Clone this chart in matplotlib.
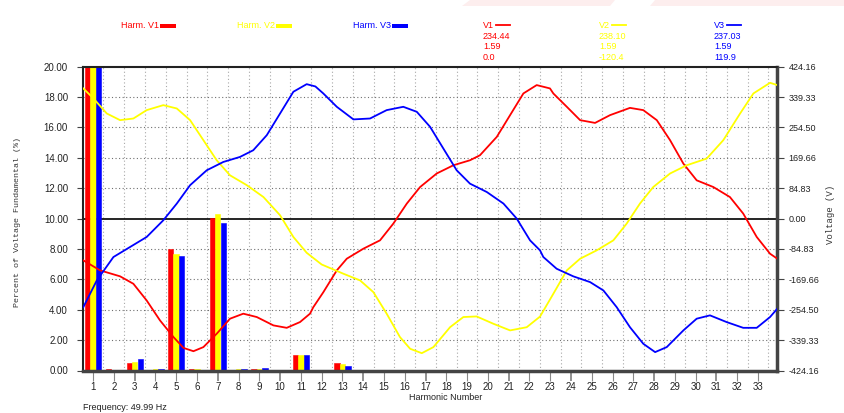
import matplotlib
matplotlib.use("Agg")
import matplotlib.pyplot as plt
from matplotlib.patches import Rectangle, Polygon
from matplotlib.lines import Line2D

# ---------------- data ----------------
harm_orders = [1, 2, 3, 4, 5, 6, 7, 8, 9, 10, 11, 12, 13]
harm_v1 = [100, 0.10, 0.48, 0.00, 8.02, 0.10, 10.05, 0.00, 0.08, 0.0, 1.05, 0.0, 0.48]
harm_v2 = [100, 0.00, 0.55, 0.07, 7.69, 0.12, 10.28, 0.10, 0.10, 0.0, 1.05, 0.0, 0.40]
harm_v3 = [100, 0.00, 0.77, 0.07, 7.53, 0.00, 9.73, 0.07, 0.15, 0.0, 1.00, 0.0, 0.31]

x_ticks = list(range(1, 34))
dark_x_ticks = [3, 7, 10, 14, 17, 21, 24, 28, 31]
pct_ticks = [0, 2, 4, 6, 8, 10, 12, 14, 16, 18, 20]
pct_labels = ["0.00", "2.00", "4.00", "6.00", "8.00", "10.00", "12.00",
              "14.00", "16.00", "18.00", "20.00"]
volt_ticks = [-424.16, -339.33, -254.50, -169.66, -84.83, 0.0,
              84.83, 169.66, 254.50, 339.33, 424.16]
volt_labels = ["-424.16", "-339.33", "-254.50", "-169.66", "-84.83", "0.00",
               "84.83", "169.66", "254.50", "339.33", "424.16"]

# waveforms (position along harmonic axis, volts)
wave_x_v1 = [0.53, 1.34, 2.30, 2.94, 3.58, 4.22, 4.87, 5.35, 5.83, 6.31, 6.95, 7.59,
             8.23, 8.88, 9.68, 10.32, 10.96, 11.44, 11.60, 12.08, 12.73, 13.21, 14.01,
             14.81, 15.45, 16.10, 16.74, 17.54, 18.34, 19.14, 19.62, 20.43, 21.07,
             21.71, 22.35, 22.99, 23.15, 23.80, 24.44, 25.16, 25.88, 26.84, 27.48,
             28.13, 28.77, 29.41, 30.05, 30.85, 31.65, 32.29, 32.94, 33.58, 33.93]
wave_v1 = [-116.6, -144.6, -161.2, -182.0, -228.6, -284.2, -330.8, -361.0, -370.3,
           -358.8, -321.5, -279.5, -265.5, -274.9, -298.2, -305.0, -288.9, -265.5,
           -247.3, -205.7, -144.6, -112.0, -84.0, -60.7, -14.0, 42.0, 88.2, 126.0,
           148.9, 162.9, 176.9, 228.2, 288.9, 349.5, 372.8, 363.5, 349.5, 312.2,
           274.9, 267.2, 288.9, 309.2, 302.9, 274.9, 218.9, 153.5, 106.9, 88.2,
           60.2, 14.0, -51.3, -98.0, -112.0]

wave_x_v2 = [0.53, 1.02, 1.66, 2.30, 2.94, 3.58, 4.38, 5.03, 5.67, 6.31, 6.95, 7.59,
             8.40, 9.20, 10.00, 10.64, 11.28, 12.00, 13.05, 13.85, 14.49, 15.13,
             15.77, 16.26, 16.82, 17.38, 18.18, 18.82, 19.46, 20.26, 21.07, 21.87,
             22.51, 23.15, 23.80, 24.44, 25.24, 26.04, 26.68, 27.32, 27.96, 28.77,
             29.57, 30.53, 31.33, 32.14, 32.78, 33.58, 33.93]
wave_v2 = [363.5, 335.5, 293.5, 274.9, 279.5, 302.9, 316.8, 307.5, 274.9, 218.9,
           162.9, 120.9, 93.3, 60.2, 9.3, -51.3, -95.4, -128.1, -154.0, -172.6,
           -205.3, -265.5, -330.8, -363.5, -375.8, -358.8, -303.3, -274.9, -273.2,
           -293.5, -312.2, -303.3, -273.6, -210.0, -144.6, -112.0, -88.6, -60.7,
           -14.0, 42.0, 88.2, 126.0, 148.9, 167.5, 218.9, 293.5, 349.5, 379.2, 372.8]

wave_x_v3 = [0.53, 1.18, 1.98, 2.78, 3.58, 4.38, 5.03, 5.67, 6.47, 7.27, 8.07, 8.71,
             9.36, 10.00, 10.64, 11.28, 11.70, 12.08, 12.73, 13.53, 14.33, 15.13,
             15.93, 16.58, 17.22, 17.86, 18.50, 19.14, 19.95, 20.75, 21.39, 22.03,
             22.51, 22.67, 23.31, 24.11, 24.92, 25.56, 26.20, 26.84, 27.48, 28.05,
             28.61, 29.41, 30.05, 30.69, 31.49, 32.29, 32.94, 33.58, 33.93]
wave_v3 = [-247.3, -172.6, -107.3, -79.3, -51.3, -4.7, 42.0, 93.3, 134.9, 158.2,
           172.2, 190.9, 232.9, 293.5, 354.2, 375.4, 369.0, 349.5, 312.2, 277.0,
           279.5, 302.9, 312.2, 298.2, 256.2, 195.5, 134.9, 97.6, 74.2, 42.0, 0.0,
           -60.7, -88.6, -107.3, -140.0, -161.2, -177.3, -200.6, -247.3, -303.3,
           -349.5, -372.8, -358.8, -312.2, -279.5, -270.2, -288.9, -305.0, -305.0,
           -274.9, -251.5]

header_names = ["V1", "V2", "V3"]
header_rms = ["234.44", "238.10", "237.03"]
header_cf = ["1.59", "1.59", "1.59"]
header_phase = ["0.0", "-120.4", "119.9"]
frequency_text = "Frequency: 49.99 Hz"

RED, YEL, BLU = "#ff0000", "#ffff00", "#0000ff"
colors = [RED, YEL, BLU]

# ---------------- figure ----------------
W, H = 845, 413
fig = plt.figure(figsize=(W / 100, H / 100), dpi=100)
fig.patch.set_facecolor("white")

def fx(px):
    return px / W

def fy(py):
    return 1 - py / H

ax = fig.add_axes([fx(83.3), fy(370.5), fx(777.3) - fx(83.3), fy(66.7) - fy(370.5)])
ax.set_xlim(0.53, 33.93)
ax.set_ylim(0, 20)

# grid
for k in range(1, 34):
    xg = k + 0.5
    if xg > 33.9:
        continue
    ax.axvline(xg, color="#a8a8a8", lw=0.8, ls=(0, (1, 2.2)), zorder=0)
for yv in pct_ticks[1:-1]:
    if yv == 10:
        continue
    ax.axhline(yv, color="#707070", lw=0.8, ls=(0, (1, 2.2)), zorder=0)
ax.axhline(10, color="black", lw=1.2, zorder=1)

# bars
offsets = [-0.26, 0.0, 0.27]
bw = 0.26
for vals, off, c in zip([harm_v1, harm_v2, harm_v3], offsets, colors):
    ax.bar([h + off for h in harm_orders], vals, width=bw, color=c,
           edgecolor=c, linewidth=0.4, zorder=2)

# axes styling
ax.set_xticks(x_ticks)
ax.set_xticklabels([str(t) for t in x_ticks], fontsize=7, color="#222222",
                   family="Liberation Sans")
ax.tick_params(axis="x", direction="out", length=7, width=0.8, color="#888888", pad=1.5)
for t, tick in zip(x_ticks, ax.xaxis.get_major_ticks()):
    if t in dark_x_ticks:
        tick.tick1line.set_color("black")
        tick.tick1line.set_markeredgewidth(1.3)
ax.set_yticks(pct_ticks)
ax.set_yticklabels(pct_labels, fontsize=7, color="#222222", family="Liberation Sans")
ax.tick_params(axis="y", direction="out", length=4.5, width=0.8, color="#444444", pad=6.5)

for side in ["left", "top"]:
    ax.spines[side].set_linewidth(1.5)
    ax.spines[side].set_color("#222222")
for side in ["right", "bottom"]:
    ax.spines[side].set_linewidth(2.5)
    ax.spines[side].set_color("#444444")

# voltage axis with waveforms
ax2 = ax.twinx()
ax2.set_ylim(-424.16, 424.16)
ax2.set_yticks(volt_ticks)
ax2.set_yticklabels(volt_labels, fontsize=6.5, color="#222222", family="Liberation Sans")
ax2.tick_params(axis="y", direction="out", length=5, width=0.8, color="#444444", pad=3)
for side in ["left", "top", "right", "bottom"]:
    ax2.spines[side].set_visible(False)
ax2.plot(wave_x_v1, wave_v1, color=RED, lw=1.3, solid_joinstyle="round")
ax2.plot(wave_x_v2, wave_v2, color=YEL, lw=1.3, solid_joinstyle="round")
ax2.plot(wave_x_v3, wave_v3, color=BLU, lw=1.3, solid_joinstyle="round")
ax2.set_xlim(0.53, 33.93)

# axis labels
fig.text(fx(18), fy(222), "Percent of Voltage Fundamental (%)", rotation=90,
         ha="center", va="center", fontsize=6, color="#333333", family="Liberation Mono")
fig.text(fx(831), fy(214), "Voltage (V)", rotation=90, ha="center", va="center",
         fontsize=6.5, color="#333333", family="Liberation Mono")
fig.text(fx(446), fy(398), "Harmonic Number", ha="center", va="center",
         fontsize=6.5, color="#222222", family="Liberation Sans")
fig.text(fx(83), fy(408), frequency_text, ha="left", va="center",
         fontsize=6.5, color="#222222", family="Liberation Sans")

# header: harmonic legend
harm_x = [121, 237, 353]
for i, (hx, c) in enumerate(zip(harm_x, colors)):
    fig.text(fx(hx), fy(26), "Harm. " + header_names[i], ha="left", va="center",
             fontsize=6.5, color=c, family="Liberation Sans")
    fig.patches.append(Rectangle((fx(hx + 39.5), fy(28.3)), fx(16), fy(23.7) - fy(28.3),
                                 transform=fig.transFigure, color=c, lw=0))

# header: waveform legend with values
wav_x = [483, 599, 714]
for i, (wx, c) in enumerate(zip(wav_x, colors)):
    fig.text(fx(wx), fy(25.5), header_names[i], ha="left", va="center",
             fontsize=6.5, color=c, family="Liberation Sans")
    fig.lines.append(Line2D([fx(wx + 13), fx(wx + 27.5)], [fy(25), fy(25)],
                            transform=fig.transFigure, color=c, lw=1.3))
    fig.text(fx(wx), fy(36.5), header_rms[i], ha="left", va="center",
             fontsize=6.5, color=c, family="Liberation Sans")
    fig.text(fx(wx), fy(46.5), header_cf[i], ha="left", va="center",
             fontsize=6.5, color=c, family="Liberation Sans")
    fig.text(fx(wx), fy(57), header_phase[i], ha="left", va="center",
             fontsize=6.5, color=c, family="Liberation Sans")

# faint pink banner at the top
fig.patches.append(Polygon([(fx(470), fy(0)), (fx(615), fy(0)), (fx(610), fy(6)),
                            (fx(462), fy(6))], closed=True, transform=fig.transFigure,
                           color="#fdeeee", lw=0))
fig.patches.append(Polygon([(fx(655), fy(0)), (fx(845), fy(0)), (fx(845), fy(6)),
                            (fx(650), fy(6))], closed=True, transform=fig.transFigure,
                           color="#fdeeee", lw=0))

fig.savefig("out.png", dpi=100, facecolor="white")
